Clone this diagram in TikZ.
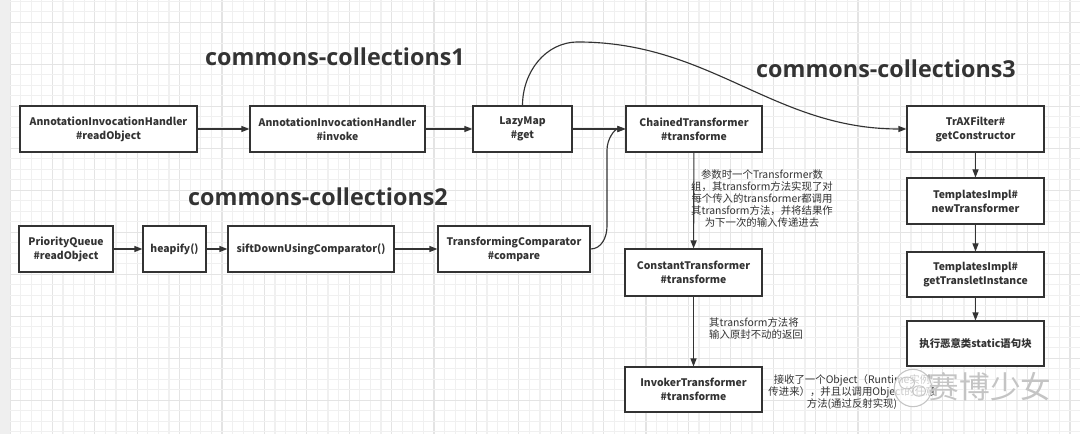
\documentclass[tikz,border=0pt]{standalone}
\usepackage{fontspec}
\setmainfont{Noto Sans CJK SC}
\newfontfamily\titlefont{Open Sans}
\usetikzlibrary{arrows.meta}
\definecolor{ink}{HTML}{333333}
\definecolor{gridminor}{HTML}{F0F0F0}
\definecolor{gridmajor}{HTML}{E4E4E4}
\definecolor{strip}{HTML}{EFEFEF}
\definecolor{wm}{HTML}{C4C4C4}
\tikzset{
  box/.style={draw=ink, line width=0.85pt, fill=white, text=ink, align=center, inner sep=0pt,
    font=\bfseries\fontsize{7.8}{10.5}\selectfont},
  arr/.style={draw=ink, line width=0.85pt, -{Triangle[length=6pt,width=4.5pt]}},
  lbl/.style={text=ink, align=center, inner sep=0pt, font=\fontsize{7.8}{9}\selectfont},
  ttl/.style={text=ink, inner sep=0pt, font=\titlefont\bfseries\fontsize{17.5}{20}\selectfont},
}
\newcommand\bx[6]{\node[box,minimum width={(#4-#2)*0.75pt},minimum height={(#5-#3)*0.75pt}] (#1) at ({(#2+#4)/2},{(#3+#5)/2}) {#6};}
\begin{document}
\begin{tikzpicture}[x=0.75pt,y=-0.75pt]
\useasboundingbox (0,0) rectangle (1080,434);
% background
\fill[white] (0,0) rectangle (1080,434);
\foreach \i in {0,...,101} {
  \pgfmathsetmacro\xx{10+\i*10.6}
  \pgfmathtruncatemacro\mm{mod(\i,4)}
  \ifnum\mm=0 \draw[gridmajor,line width=0.8pt] (\xx,0) -- (\xx,434);
  \else \draw[gridminor,line width=0.8pt] (\xx,0) -- (\xx,434); \fi
}
\foreach \k in {-2,...,39} {
  \pgfmathsetmacro\yy{22.3+\k*10.5}
  \pgfmathtruncatemacro\mm{mod(\k+40,4)}
  \ifnum\mm=0 \draw[gridmajor,line width=0.8pt] (10,\yy) -- (1080,\yy);
  \else \draw[gridminor,line width=0.8pt] (10,\yy) -- (1080,\yy); \fi
}
\fill[strip] (0,0) rectangle (10,434);

% titles
\node[ttl] (t1) at (335,57) {commons-collections1};
\node[ttl] (t2) at (318,197) {commons-collections2};
\node[ttl] (t3) at (886,69) {commons-collections3};

% row 1
\bx{a1}{20}{106}{197}{152}{AnnotationInvocationHandler\\\#readObject}
\bx{a2}{250}{106}{425}{152}{AnnotationInvocationHandler\\\#invoke}
\bx{lm}{473}{106}{572}{152}{LazyMap\\\#get}
\bx{ct}{626}{106}{762}{152}{ChainedTransformer\\\#transforme}
\bx{trax}{907}{106}{1044}{152}{TrAXFilter\#\\getConstructor}
% row 2
\bx{pq}{19}{226}{113}{272}{PriorityQueue\\\#readObject}
\bx{hp}{143}{226}{206}{272}{heapify()}
\bx{sd}{228}{226}{394}{272}{siftDownUsingComparator()}
\bx{tc}{438}{226}{590}{272}{TransformingComparator\\\#compare}
% middle column
\bx{cst}{625}{249}{762}{296}{ConstantTransformer\\\#transforme}
\bx{inv}{625}{367}{762}{412}{InvokerTransformer\\\#transforme}
% right column
\bx{nt}{907}{178}{1044}{224}{TemplatesImpl\#\\newTransformer}
\bx{gti}{907}{252}{1044}{297}{TemplatesImpl\#\\getTransletInstance}
\bx{exe}{907}{321}{1044}{366}{执行恶意类static语句块}

% connectors
\draw[arr] (a1) -- (a2);
\draw[arr] (a2) -- (lm);
\draw[arr] (lm) -- (ct);
\draw[arr] (pq) -- (hp);
\draw[arr] (hp) -- (sd);
\draw[arr] (sd) -- (tc);
\draw[arr] (ct) -- (cst);
\draw[arr] (cst) -- (inv);
\draw[arr] (trax) -- (nt);
\draw[arr] (nt) -- (gti);
\draw[arr] (gti) -- (exe);
\coordinate (c1) at (607,226);
\coordinate (c2) at (607,150);
\draw[arr] (tc.east) to[out=0,in=-90] (c1) -- (c2) to[out=90,in=180] (ct.west);
\coordinate (top) at (578,42);
\draw[arr] (lm.north) to[out=90,in=180] (top) to[out=0,in=180] (trax.west);

% labels
\node[lbl] (l1) at (762,199) {参数时一个Transformer数\\组，其transform方法实现了对\\每个传入的transformer都调用\\其transform方法，并将结果作\\为下一次的输入传递进去};
\node[lbl,align=left] (l2) at (756,328.5) {其transform方法将\\输入原封不动的返回};
\node[lbl] (l3) at (852,392.5) {接收了一个Object（Runtime实例\\传进来），并且以调用Object的任意\\方法(通过反射实现)};

% watermark
\node[circle, draw=wm, fill=white, fill opacity=0.75, line width=0.8pt, minimum size=28pt, inner sep=0pt] (wmicon) at (913,388) {};
\draw[wm, line width=0.7pt] (907,383) ellipse (7.5 and 6);
\draw[wm, line width=0.7pt] (919,391) ellipse (6.5 and 5.2);
\node[text=wm, inner sep=0pt, font=\fontsize{23}{26}\selectfont] (wmtext) at (990,387) {赛博少女};
\end{tikzpicture}
\end{document}
